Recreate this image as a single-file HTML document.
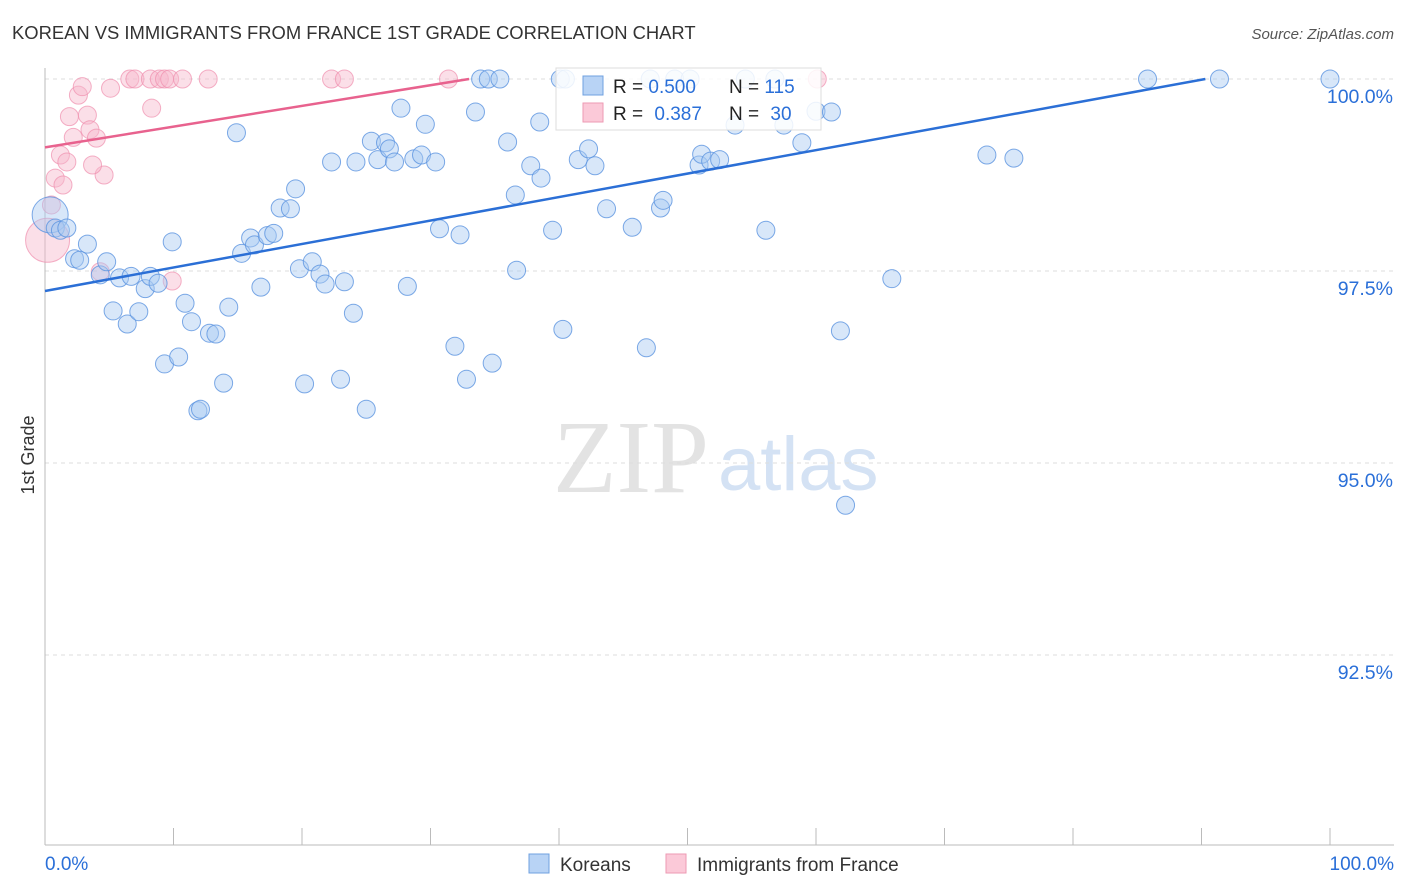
<!DOCTYPE html>
<html><head><meta charset="utf-8"><style>
body{margin:0;background:#fff;font-family:"Liberation Sans",sans-serif}
svg{display:block}
</style></head><body>
<svg id="c" width="1406" height="892" xmlns="http://www.w3.org/2000/svg">
<text x="12" y="39" font-size="18.4" fill="#333">KOREAN VS IMMIGRANTS FROM FRANCE 1ST GRADE CORRELATION CHART</text>
<text x="1394" y="39" font-size="15" fill="#555" text-anchor="end" font-style="italic">Source: ZipAtlas.com</text>
<text x="553" y="492" font-size="104" fill="#e3e3e3" font-family="Liberation Serif,serif">ZIP</text>
<text x="718" y="490" font-size="76" fill="#d4e2f4">atlas</text>
<text transform="translate(34,455) rotate(-90)" font-size="18" fill="#333" text-anchor="middle">1st Grade</text>
<g id="grid"></g><g id="marks"></g><g id="lines"></g>
<g>
<rect x="556" y="68" width="265" height="62" fill="#fff" fill-opacity="0.85" stroke="#ddd"/>
<rect x="583" y="76" width="20" height="19" fill="#b8d3f5" stroke="#6fa0e0"/>
<rect x="583" y="103" width="20" height="19" fill="#fbc9d8" stroke="#ee9ab3"/>
<text x="613" y="93" font-size="19" fill="#222">R = <tspan fill="#2a6fd8">0.500</tspan></text>
<text x="729" y="93" font-size="19" fill="#222">N = <tspan fill="#2a6fd8">115</tspan></text>
<text x="613" y="120" font-size="19" fill="#222">R = <tspan fill="#2a6fd8" dx="6">0.387</tspan></text>
<text x="729" y="120" font-size="19" fill="#222">N = <tspan fill="#2a6fd8" dx="6">30</tspan></text>
</g>
<g>
<rect x="529" y="854" width="20" height="19" fill="#b8d3f5" stroke="#6fa0e0"/>
<text x="560" y="871" font-size="19" fill="#333">Koreans</text>
<rect x="666" y="854" width="20" height="19" fill="#fbc9d8" stroke="#ee9ab3"/>
<text x="697" y="871" font-size="19" fill="#333">Immigrants from France</text>
</g>
<text x="45" y="870" font-size="19" fill="#2a6fd8">0.0%</text>
<text x="1394" y="870" font-size="19" fill="#2a6fd8" text-anchor="end">100.0%</text>
</svg>
<script>
const yTicks=[100,97.5,95,92.5];
const yTickLabels=["100.0%","97.5%","95.0%","92.5%"];
const koreanX=[0.4,0.8,1.2,1.7,2.3,2.7,3.3,4.3,4.8,5.3,5.8,6.4,6.7,7.3,7.8,8.2,8.8,9.3,9.9,10.4,10.9,11.4,11.9,12.1,12.8,13.3,13.9,14.3,14.9,15.3,16.0,16.3,16.8,17.3,17.8,18.3,19.1,19.5,19.8,20.2,20.8,21.4,21.8,22.3,23.0,23.3,24.0,24.2,25.0,25.4,25.9,26.5,26.8,27.2,27.7,28.2,28.7,29.3,29.6,30.4,30.7,31.9,32.3,32.8,33.5,33.9,34.5,34.8,35.4,36.0,36.6,36.7,37.8,38.5,38.6,39.5,40.1,40.3,41.5,42.3,42.8,43.7,45.7,46.8,47.9,48.1,50.9,51.1,51.8,52.5,53.7,54.5,56.1,57.5,58.9,60.0,61.2,61.9,62.3,65.9,73.3,75.4,85.8,91.4,100,40.5,47.1,49.0,50.2,56.8];
const koreanY=[98.23,98.06,98.03,98.06,97.66,97.64,97.85,97.45,97.62,96.98,97.41,96.81,97.43,96.97,97.27,97.43,97.34,96.29,97.88,96.38,97.08,96.84,95.68,95.70,96.69,96.68,96.04,97.03,99.30,97.73,97.93,97.84,97.29,97.96,97.99,98.32,98.31,98.57,97.53,96.03,97.62,97.46,97.33,98.92,96.09,97.36,96.95,98.92,95.70,99.19,98.95,99.17,99.09,98.92,99.62,97.30,98.96,99.01,99.41,98.92,98.05,96.52,97.97,96.09,99.57,100,100,96.30,100,99.18,98.49,97.51,98.87,99.44,98.71,98.03,100,96.74,98.95,99.09,98.87,98.31,98.07,96.50,98.32,98.42,98.88,99.02,98.93,98.95,99.40,100,98.03,99.40,99.17,99.58,99.57,96.72,94.45,97.40,99.01,98.97,100,100,100,100,100,100,100,100];
const franceX=[0.2,0.5,0.8,1.2,1.7,1.4,1.9,2.2,2.6,2.9,3.3,3.5,4.0,4.6,3.7,5.1,6.6,7.0,8.2,8.9,9.3,9.7,10.7,12.7,8.3,4.3,9.9,22.3,23.3,31.4,60.1];
const franceY=[97.90,98.36,98.71,99.01,98.92,98.62,99.51,99.24,99.79,99.90,99.53,99.34,99.23,98.75,98.88,99.88,100,100,100,100,100,100,100,100,99.62,97.49,97.37,100,100,100,100];
const koreanTrend=[[0,97.24],[90.3,100]];
const franceTrend=[[0,99.11],[33,100]];
const NS="http://www.w3.org/2000/svg";
const X0=45,X1=1330,YT=79;
const xs=v=>X0+(X1-X0)*v/100;
const ys=v=>YT+(100-v)*76.8;
function mk(t,a,p){const e=document.createElementNS(NS,t);for(const k in a)e.setAttribute(k,a[k]);p.appendChild(e);return e;}
const grid=document.getElementById('grid');
yTicks.forEach((t,i)=>{
 const l=mk('line',{x1:X0,x2:1394,y1:ys(t),y2:ys(t),stroke:'#ddd','stroke-dasharray':'4,4'},grid);
 
 
 const tx=mk('text',{x:1393,y:ys(t)+24,'font-size':19.5,fill:'#2a6fd8','text-anchor':'end'},grid);
 tx.textContent=yTickLabels[i];
 
 
});
const ax=mk('line',{x1:X0,x2:X0,y1:68,y2:845,stroke:'#bbb'},grid);


const bx=mk('line',{x1:X0,x2:1394,y1:845,y2:845,stroke:'#bbb'},grid);


for(let i=0;i<=10;i++){
 const t=mk('line',{x1:xs(i*10),x2:xs(i*10),y1:828,y2:845,stroke:'#bbb'},grid);
 
 
}
const marks=document.getElementById('marks');
franceX.forEach((v,i)=>{
 const c=mk('circle',{cx:xs(v),cy:ys(franceY[i]),r:i==0?22:9,fill:'#f7b8cb','fill-opacity':0.45,stroke:'#ef8fae','stroke-opacity':0.7,'stroke-width':1},marks);
 
 
});
koreanX.forEach((v,i)=>{
 const c=mk('circle',{cx:xs(v),cy:ys(koreanY[i]),r:i==0?18:9,fill:'#a9c9f2','fill-opacity':0.45,stroke:'#5b93e0','stroke-opacity':0.8,'stroke-width':1},marks);
 
 
});
const lines=document.getElementById('lines');
const kl=mk('line',{x1:xs(koreanTrend[0][0]),y1:ys(koreanTrend[0][1]),x2:xs(koreanTrend[1][0]),y2:ys(koreanTrend[1][1]),stroke:'#2b6fd6','stroke-width':2.5},lines);


const fl=mk('line',{x1:xs(franceTrend[0][0]),y1:ys(franceTrend[0][1]),x2:xs(franceTrend[1][0]),y2:ys(franceTrend[1][1]),stroke:'#e8628e','stroke-width':2.5},lines);


</script>
</body></html>
